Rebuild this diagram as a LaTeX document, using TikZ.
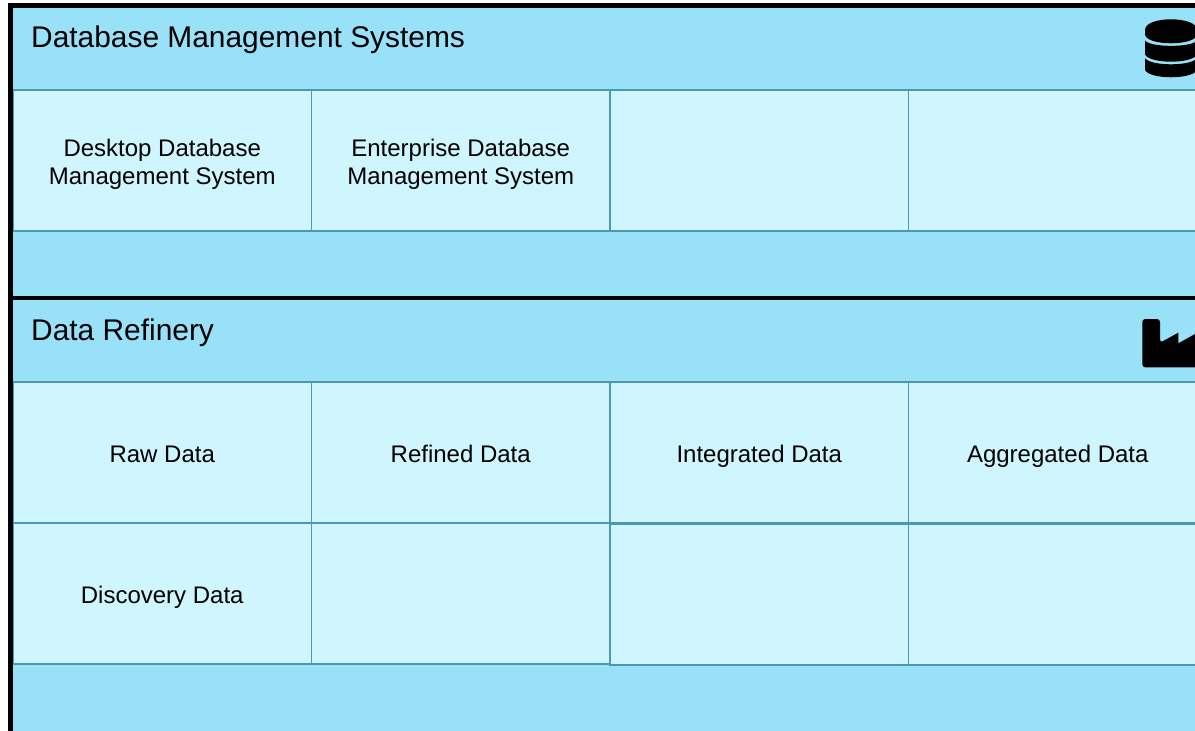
\documentclass[tikz,border=0pt]{standalone}
\usepackage{fontspec}
\setmainfont{Liberation Sans}
\definecolor{panelblue}{HTML}{99E1F9}
\definecolor{cellblue}{HTML}{CFF5FE}
\definecolor{celledge}{HTML}{4A98B2}
\tikzset{
  cell/.style={draw=celledge, fill=cellblue, line width=1.6pt, outer sep=0pt, minimum width=298.5pt, minimum height=141pt, inner sep=0pt, align=center, font=\fontsize{24}{28}\selectfont, anchor=north west},
  oneline/.style={text height=26pt, text depth=5.8pt},
  title/.style={inner sep=0pt, anchor=base west, font=\fontsize{29.9}{34}\selectfont},
}
\def\toprule{\rule{0pt}{24.5pt}}
\begin{document}
\begin{tikzpicture}[x=1pt, y=-1pt]
\useasboundingbox (0,0) rectangle (1195,731);
\fill[white] (0,0) rectangle (1195,731);
\fill[panelblue] (10,5) rectangle (1195,731);

%top row of systems
\node[cell] (desktop) at (13,90) {\toprule Desktop Database\\Management System};
\node[cell] (enterprise) at (311.5,90) {\toprule Enterprise Database\\Management System};
\node[cell] (systemc) at (610,90) {};
\node[cell] (systemd) at (908.5,90) {};

%refinery cells
\node[cell, oneline] (raw) at (13,382) {Raw Data};
\node[cell, oneline] (refined) at (311.5,382) {Refined Data};
\node[cell, oneline] (integrated) at (610,382) {Integrated Data};
\node[cell, oneline] (aggregated) at (908.5,382) {Aggregated Data};
\node[cell, oneline] (discovery) at (13,523) {Discovery Data};
\node[cell] (refinedb) at (311.5,523) {};
\node[cell] (integratedb) at (610,523.7) {};
\node[cell] (aggregatedb) at (908.5,523.7) {};

%black frame
\draw[line width=4.6pt] (1195,5.7) -- (10.3,5.7) -- (10.3,731);
\draw[line width=4.6pt] (10.3,298) -- (1195,298);

\node[title] (dbtitle) at (31,47.5) {Database Management Systems};
\node[title] (refinerytitle) at (31,340) {Data Refinery};

%database icon
\fill (1145,30) .. controls (1145,15.7) and (1197,15.7) .. (1197,30) -- (1197,34) .. controls (1197,46.4) and (1145,46.4) .. (1145,34) -- cycle;
\fill (1145,40.5) .. controls (1150,47.6) and (1192,47.6) .. (1197,40.5) -- (1197,54.5) .. controls (1192,64.1) and (1150,64.1) .. (1145,54.5) -- cycle;
\fill (1145,58) .. controls (1150,66.4) and (1192,66.4) .. (1197,58) -- (1197,70) .. controls (1192,79.7) and (1150,79.7) .. (1145,70) -- cycle;

%factory icon
\fill[rounded corners=3pt] (1199,367.3) -- (1142.3,367.3) -- (1142.3,319) -- (1160,319) -- (1160,342.7) [sharp corners] -- (1178.3,332.7) -- (1178.3,343.3) -- (1199,331.8) -- cycle;
\end{tikzpicture}
\end{document}
